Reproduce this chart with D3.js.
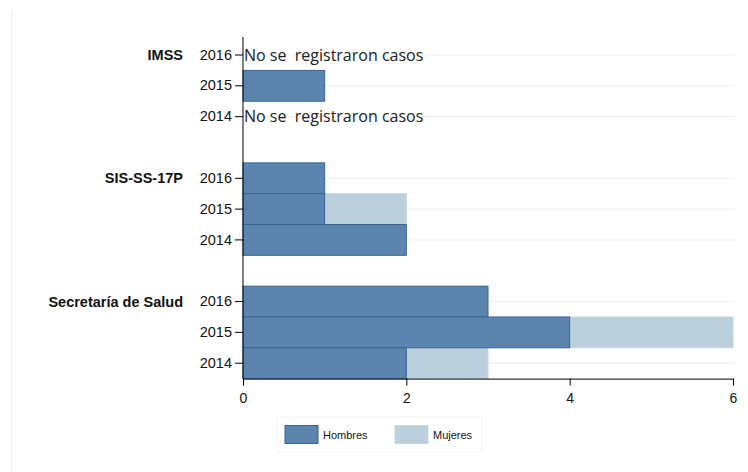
<!DOCTYPE html>
<html>
<head>
<meta charset="utf-8">
<script src="https://cdn.jsdelivr.net/npm/d3@7"></script>
<style>
  body { margin: 0; background: #fff; }
  svg { display: block; }
</style>
</head>
<body>
<svg id="chart"></svg>
<script>
const groups = ['IMSS', 'SIS-SS-17P', 'Secretaría de Salud'];
const years = ['2016', '2015', '2014'];
const hombres = [
  [null, 1, null],
  [1, 1, 2],
  [3, 4, 2]
];
const mujeres = [
  [null, 0, null],
  [0, 1, 0],
  [0, 2, 1]
];
const xTicks = [0, 2, 4, 6];
const seriesNames = ['Hombres', 'Mujeres'];
const noCasesText = 'No se  registraron casos';

const width = 748, height = 472;
const colors = { Hombres: '#5b85ae', Mujeres: '#bccfdd' };
const strokes = { Hombres: '#346597', Mujeres: '#c6d6e2' };
const labelFont = 'Arial, "Liberation Sans", sans-serif';

const svg = d3.select('#chart').attr('width', width).attr('height', height);

// rows: each group has 3 years, one empty slot between groups
let rows = [];
groups.forEach((g, gi) => {
  years.forEach((y, yi) => {
    rows.push({ key: g + '|' + y, group: g, year: y, gi, yi,
      h: hombres[gi][yi], m: mujeres[gi][yi] });
  });
  if (gi < groups.length - 1) rows.push({ key: 'gap' + gi, gap: true });
});

const xScale = d3.scaleLinear().domain([0, 6]).range([243, 733]);
const yScale = d3.scaleBand()
  .domain(rows.map(d => d.key))
  .range([39.6, 378.6])
  .paddingInner(0).paddingOuter(0);

const data = rows.filter(d => !d.gap);

// outer light frame line on the left
svg.append('line')
  .attr('x1', 11.5).attr('x2', 11.5).attr('y1', 10).attr('y2', height)
  .attr('stroke', '#eef0f0').attr('stroke-width', 1);

// gridlines at row centres
svg.append('g').selectAll('line')
  .data(data)
  .join('line')
  .attr('x1', xScale(0)).attr('x2', 735)
  .attr('y1', d => yScale(d.key) + yScale.bandwidth() / 2)
  .attr('y2', d => yScale(d.key) + yScale.bandwidth() / 2)
  .attr('stroke', '#eaf2f3').attr('stroke-width', 1.2);

// stacked bars: Mujeres first so Hombres outline stays on top
const bars = svg.append('g');
data.filter(d => d.h !== null && d.m > 0).forEach(d => {
  bars.append('rect')
    .attr('x', xScale(d.h)).attr('y', yScale(d.key))
    .attr('width', xScale(d.h + d.m) - xScale(d.h))
    .attr('height', yScale.bandwidth())
    .attr('fill', colors.Mujeres).attr('stroke', strokes.Mujeres).attr('stroke-width', 1);
});
data.filter(d => d.h !== null).forEach(d => {
  bars.append('rect')
    .attr('x', xScale(0)).attr('y', yScale(d.key))
    .attr('width', xScale(d.h) - xScale(0))
    .attr('height', yScale.bandwidth())
    .attr('fill', colors.Hombres).attr('stroke', strokes.Hombres).attr('stroke-width', 1);
});

// "no cases" notes
svg.append('g').selectAll('text')
  .data(data.filter(d => d.h === null))
  .join('text')
  .attr('x', xScale(0) + 1)
  .attr('y', d => yScale(d.key) + yScale.bandwidth() / 2 + 5.5)
  .attr('font-family', '"Open Sans", "Noto Sans", sans-serif')
  .attr('font-size', 16)
  .attr('fill', '#222')
  .style('white-space', 'pre')
  .text(noCasesText);

// y axis
const yAxis = d3.axisLeft(yScale)
  .tickValues(data.map(d => d.key))
  .tickFormat(k => k.split('|')[1])
  .tickSize(8).tickSizeOuter(0).tickPadding(3);
const yAxisG = svg.append('g')
  .attr('transform', `translate(${xScale(0)},0)`)
  .call(yAxis);
yAxisG.select('.domain').attr('d', `M0,37V${yScale.range()[1]}`).attr('stroke', '#000');
yAxisG.selectAll('text')
  .attr('font-family', labelFont)
  .attr('font-size', 14.5).attr('fill', '#111');

// group labels
svg.append('g').selectAll('text')
  .data(groups)
  .join('text')
  .attr('x', 183)
  .attr('y', g => yScale(g + '|' + years[0]) + yScale.bandwidth() / 2 + 5)
  .attr('text-anchor', 'end')
  .attr('font-family', labelFont)
  .attr('font-size', 14.5).attr('font-weight', 'bold').attr('fill', '#111')
  .text(g => g);

// x axis
const xAxis = d3.axisBottom(xScale)
  .tickValues(xTicks).tickFormat(d3.format('d'))
  .tickSize(7).tickSizeOuter(0).tickPadding(7);
const xAxisG = svg.append('g')
  .attr('transform', `translate(0,${yScale.range()[1]})`)
  .call(xAxis);
xAxisG.select('.domain').attr('stroke', '#000');
xAxisG.selectAll('text')
  .attr('font-family', labelFont)
  .attr('font-size', 14).attr('fill', '#111');

// legend
const legend = svg.append('g');
legend.append('rect')
  .attr('x', 277).attr('y', 417).attr('width', 205).attr('height', 35)
  .attr('fill', '#fff').attr('stroke', '#eef3f3');
const legendX = [285, 395];
seriesNames.forEach((s, i) => {
  legend.append('rect')
    .attr('x', legendX[i]).attr('y', 425.5).attr('width', 33).attr('height', 18)
    .attr('fill', colors[s]).attr('stroke', strokes[s]);
  legend.append('text')
    .attr('x', legendX[i] + 38).attr('y', 439)
    .attr('font-family', labelFont)
    .attr('font-size', 11).attr('fill', '#111')
    .text(s);
});
</script>
</body>
</html>
